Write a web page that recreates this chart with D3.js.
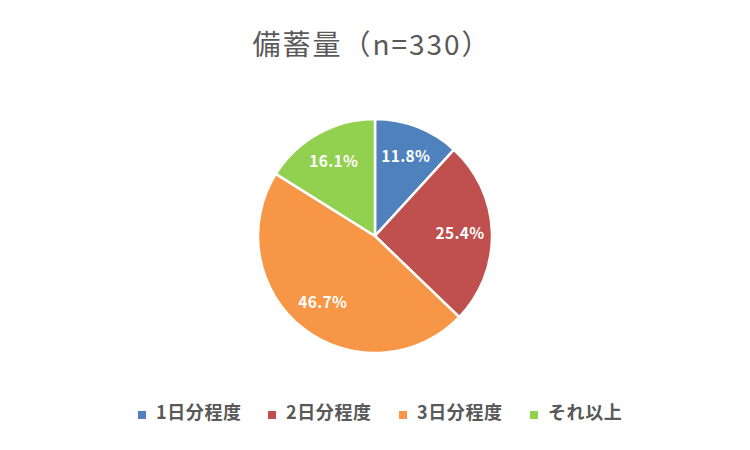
<!DOCTYPE html>
<html><head><meta charset="utf-8">
<script src="https://cdn.jsdelivr.net/npm/d3@7"></script>
<style>body{margin:0;background:#fff}svg{display:block}</style>
</head><body>
<script>
const categories = ["1日分程度", "2日分程度", "3日分程度", "それ以上"];
const values = [11.8, 25.4, 46.7, 16.1];
const colors = ["#4F81BD", "#C0504D", "#F79646", "#92D050"];
const title = "備蓄量（n=330）";

const W = 750, H = 450;
const svg = d3.select("body").append("svg").attr("width", W).attr("height", H);
const font = "'Noto Sans CJK JP', 'Noto Sans', sans-serif";

svg.append("text").attr("x", 372).attr("y", 55).attr("text-anchor", "middle")
  .attr("font-family", font).attr("font-size", 28).attr("letter-spacing", 2)
  .attr("fill", "#595959").text(title);

const cx = 375, cy = 236, R = 117;
const pie = d3.pie().sort(null).value(d => d);
const arcs = pie(values);
const arc = d3.arc().innerRadius(0).outerRadius(R);
const labelArc = d3.arc().innerRadius(85).outerRadius(85);
const g = svg.append("g").attr("transform", `translate(${cx},${cy})`);
g.selectAll("path").data(arcs).join("path").attr("d", arc)
  .attr("fill", (d, i) => colors[i]).attr("stroke", "#fff").attr("stroke-width", 2.5);
g.selectAll("text").data(arcs).join("text")
  .attr("transform", d => `translate(${labelArc.centroid(d)})`)
  .attr("text-anchor", "middle").attr("dy", "0.35em")
  .attr("font-family", font).attr("font-size", 15.5).attr("font-weight", "bold")
  .attr("letter-spacing", 0.3)
  .attr("fill", "#fff").text(d => d.data.toFixed(1) + "%");

const legendX = [138, 268, 399, 530];
const lg = svg.append("g");
categories.forEach((c, i) => {
  lg.append("rect").attr("x", legendX[i]).attr("y", 411).attr("width", 8).attr("height", 8).attr("fill", colors[i]);
  lg.append("text").attr("x", legendX[i] + 18).attr("y", 413).attr("dy", "0.35em")
    .attr("font-family", font).attr("font-size", 18).attr("font-weight", "bold")
    .attr("letter-spacing", 0.6)
    .attr("fill", "#595959").text(c);
});
</script>
</body></html>
